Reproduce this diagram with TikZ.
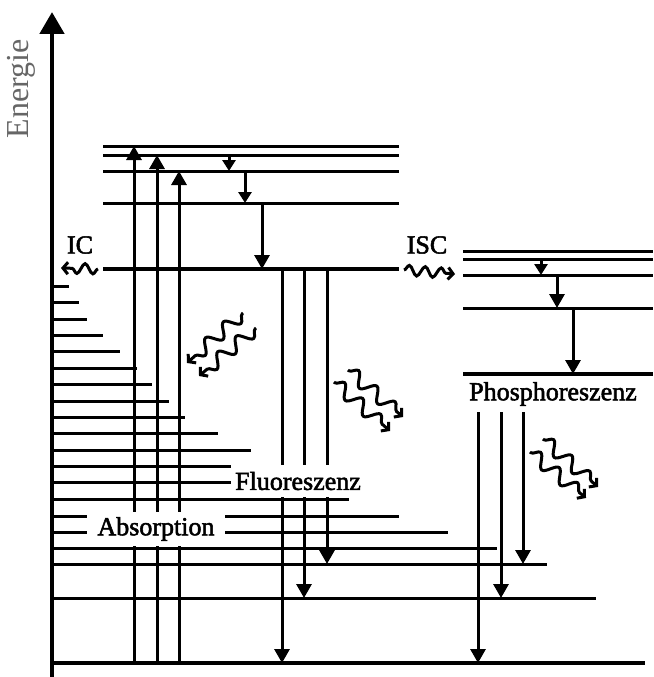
\documentclass[tikz,border=0pt]{standalone}
\usepackage{fontspec}
\setmainfont{Liberation Serif}
\newfontfamily\labfont[FakeBold=2]{Liberation Serif}
\usetikzlibrary{arrows.meta,decorations.pathmorphing}
\begin{document}
\begin{tikzpicture}[x=1pt,y=-1pt,
  lvl/.style={line width=3pt},
  thicklvl/.style={line width=4.5pt},
  trans/.style={line width=3pt,-{Triangle[width=15pt,length=14pt]}},
  small/.style={line width=3pt,-{Triangle[width=13pt,length=11pt]}},
  photon/.style={line width=3pt,decorate,
    decoration={snake,amplitude=6.5pt,segment length=24pt,pre length=1pt,post length=8pt},
    -{Straight Barb[length=5pt,width=12pt]}},
  icarrow/.style={line width=3pt,decorate,
    decoration={snake,amplitude=5pt,segment length=16pt,post length=7pt},
    -{Straight Barb[length=5pt,width=12pt]}},
  lab/.style={font=\labfont\fontsize{26}{29}\selectfont,inner sep=0pt},
  cover/.style={fill=white,inner sep=0pt}
]
\useasboundingbox (0,0) rectangle (653,677);
\fill[white] (0,0) rectangle (653,677);

% energy axis
\draw[line width=4.8pt,-{Triangle[width=24pt,length=22pt]}] (52,677) -- (52,12);
\node[inner sep=0pt,font=\fontsize{32}{35}\selectfont,text=black!60,rotate=90] (en) at (21,89) {Energie};

% S0 levels
\foreach \y/\x in {286/69,302/79,319/87,335/103,351/120,368/137,384/152,401/169,417/185,
                   433/218,450/251,466/231,482/231,499/349,516/399,532/448,548/497,564/547,598/596}
  \draw[lvl] (52,\y) -- (\x,\y);
\draw[thicklvl] (52,663) -- (645,663);

% S1 levels
\foreach \y in {146,155,171,203}
  \draw[lvl] (103,\y) -- (399,\y);
\draw[thicklvl] (103,269) -- (399,269);

% T1 levels
\foreach \y in {251,259,275,308}
  \draw[lvl] (463,\y) -- (653,\y);
\draw[thicklvl] (463,374) -- (653,374);

% coordinates
\coordinate (a1s) at (134,663); \coordinate (a1e) at (134,146);
\coordinate (a2s) at (157,663); \coordinate (a2e) at (157,155);
\coordinate (a3s) at (179,663); \coordinate (a3e) at (179,171);
\coordinate (r1s) at (229,155); \coordinate (r1e) at (229,171);
\coordinate (r2s) at (245,171); \coordinate (r2e) at (245,203);
\coordinate (r3s) at (262,203); \coordinate (r3e) at (262,269);
\coordinate (f1s) at (282,269); \coordinate (f1e) at (282,663);
\coordinate (f2s) at (304,269); \coordinate (f2e) at (304,598);
\coordinate (f3s) at (327,269); \coordinate (f3e) at (327,564);
\coordinate (t1s) at (541,259); \coordinate (t1e) at (541,275);
\coordinate (t2s) at (557,275); \coordinate (t2e) at (557,308);
\coordinate (t3s) at (573,308); \coordinate (t3e) at (573,374);
\coordinate (p1s) at (478,412); \coordinate (p1e) at (478,663);
\coordinate (p2s) at (501,412); \coordinate (p2e) at (501,598);
\coordinate (p3s) at (523,412); \coordinate (p3e) at (523,564);

% absorption
\draw[trans] (a1s) -- (a1e);
\draw[trans] (a2s) -- (a2e);
\draw[trans] (a3s) -- (a3e);
% vibrational relaxation S1
\draw[small] (r1s) -- (r1e);
\draw[small] (r2s) -- (r2e);
\draw[trans] (r3s) -- (r3e);
% fluorescence
\draw[trans] (f1s) -- (f1e);
\draw[trans] (f2s) -- (f2e);
\draw[trans] (f3s) -- (f3e);
% vibrational relaxation T1
\draw[small] (t1s) -- (t1e);
\draw[trans] (t2s) -- (t2e);
\draw[trans] (t3s) -- (t3e);
% phosphorescence
\draw[trans] (p1s) -- (p1e);
\draw[trans] (p2s) -- (p2e);
\draw[trans] (p3s) -- (p3e);

% labels
\node[lab,cover,minimum width=138pt,minimum height=34pt] (abs) at (156,529) {Absorption};
\node[lab,cover,minimum width=134pt,minimum height=32pt] (flu) at (298,481) {Fluoreszenz};
\node[lab] (pho) at (553,394) {Phosphoreszenz};
\node[lab] (ic) at (80,245) {IC};
\node[lab] (isc) at (427,245) {ISC};

% wavy arrows
\coordinate (ics) at (98,269); \coordinate (ice) at (61,268);
\coordinate (iscs) at (404,270); \coordinate (isce) at (455,274);
\draw[icarrow] (ics) -- (ice);
\draw[icarrow] (iscs) -- (isce);

\coordinate (h1s) at (243,313); \coordinate (h1e) at (187,363);
\coordinate (h2s) at (256,328); \coordinate (h2e) at (199,376);
\coordinate (fl1s) at (348,370); \coordinate (fl1e) at (403,417);
\coordinate (fl2s) at (334,382); \coordinate (fl2e) at (390,431);
\coordinate (ph1s) at (543,439); \coordinate (ph1e) at (598,487);
\coordinate (ph2s) at (530,452); \coordinate (ph2e) at (586,498);
\draw[photon] (h1s) -- (h1e);
\draw[photon] (h2s) -- (h2e);
\draw[photon] (fl1s) -- (fl1e);
\draw[photon] (fl2s) -- (fl2e);
\draw[photon] (ph1s) -- (ph1e);
\draw[photon] (ph2s) -- (ph2e);
\end{tikzpicture}
\end{document}
